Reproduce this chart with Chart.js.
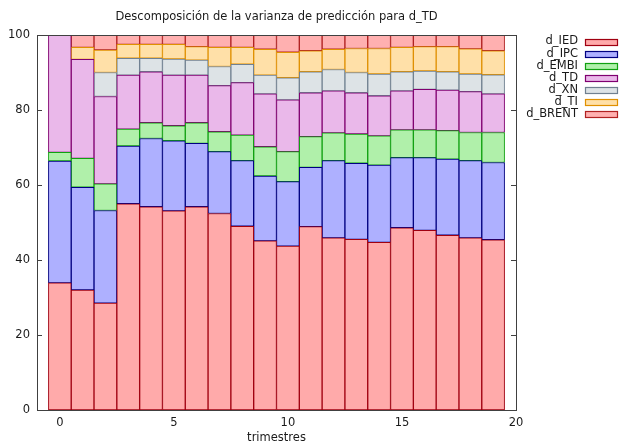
<!DOCTYPE html>
<html>
<head>
<meta charset="utf-8">
<script src="https://cdn.jsdelivr.net/npm/chart.js@4/dist/chart.umd.min.js"></script>
<style>
html,body{margin:0;padding:0;background:#fff;}
#wrap{width:624px;height:445px;position:relative;}
</style>
</head>
<body>
<div id="wrap"><canvas id="c" width="624" height="445"></canvas></div>
<script>
const steps = [0,1,2,3,4,5,6,7,8,9,10,11,12,13,14,15,16,17,18,19];
const d_IED   = [33.9,32.0,28.5,55.0,54.2,53.1,54.2,52.4,49.0,45.1,43.7,48.9,45.9,45.5,44.7,48.6,47.9,46.6,45.9,45.4];
const d_IPC   = [32.5,27.4,24.7,15.4,18.2,18.7,16.9,16.5,17.5,17.3,17.2,15.8,20.6,20.3,20.6,18.7,19.4,20.3,20.6,20.6];
const d_EMBI  = [2.3,7.7,7.1,4.5,4.2,4.0,5.5,5.3,6.8,7.8,8.0,8.2,7.4,7.8,7.8,7.4,7.4,7.6,7.5,8.0];
const d_TD    = [31.3,26.4,23.3,14.4,13.6,13.5,12.7,12.3,14.0,14.1,13.8,11.7,11.2,11.0,10.7,10.4,10.8,10.8,10.9,10.3];
const d_XN    = [0,0,6.4,4.5,3.6,4.3,4.0,5.1,4.9,5.0,5.9,5.6,5.7,5.4,5.8,5.1,4.9,4.9,4.7,5.1];
const d_TI    = [0,3.2,6.0,3.7,3.7,3.9,3.6,5.1,4.5,6.9,6.8,5.6,5.4,6.4,6.8,6.5,6.5,6.7,6.7,6.4];
const d_BRENT = [0,3.3,4.0,2.5,2.5,2.5,3.1,3.3,3.3,3.8,4.6,4.2,3.8,3.6,3.6,3.3,3.1,3.1,3.7,4.2];
const seriesNames = ['d_IED','d_IPC','d_EMBI','d_TD','d_XN','d_TI','d_BRENT'];
const seriesValues = [d_IED,d_IPC,d_EMBI,d_TD,d_XN,d_TI,d_BRENT];
const xTicks = [0,5,10,15,20];
const yTicks = [0,20,40,60,80,100];
const titleText = 'Descomposición de la varianza de predicción para d_TD';
const xTitle = 'trimestres';

const fills   = ['#ffaaaa','#aeb0ff','#b0f0aa','#eab8ea','#dde3e6','#ffe0a8','#ffb0b0'];
const borders = ['#a00010','#000080','#10a010','#800070','#708090','#e09000','#b02020'];

const FONT = 'DejaVu Sans, Verdana, sans-serif';
const FS = 11.5;

const datasets = seriesNames.map((name,i)=>({
  label: name,
  data: steps.map((s,j)=>({x:s, y:seriesValues[i][j]})),
  backgroundColor: fills[i],
  borderColor: borders[i],
  borderWidth: 1,
  borderSkipped: false,
  barPercentage: 1.0,
  categoryPercentage: 1.0
}));

const framePlugin = {
  id: 'frame',
  beforeDatasetsDraw(chart){
    const {ctx, chartArea:a, scales} = chart;
    ctx.save();
    ctx.strokeStyle = '#404040';
    ctx.lineWidth = 1;
    ctx.beginPath();
    yTicks.forEach(v=>{
      const y = Math.round(scales.y.getPixelForValue(v))+0.5;
      ctx.moveTo(a.left, y); ctx.lineTo(a.left+5, y);
      ctx.moveTo(a.right, y); ctx.lineTo(a.right-5, y);
    });
    ctx.stroke();
    ctx.restore();
  },
  afterDraw(chart){
    const {ctx, chartArea:a} = chart;
    ctx.save();
    ctx.strokeStyle = '#404040';
    ctx.lineWidth = 1;
    ctx.strokeRect(Math.round(a.left)+0.5, Math.round(a.top)+0.5, Math.round(a.right-a.left), Math.round(a.bottom-a.top));
    ctx.fillStyle = '#1a1a1a';
    ctx.font = FS + 'px ' + FONT;
    ctx.textAlign = 'center';
    ctx.textBaseline = 'middle';
    ctx.fillText(titleText, (a.left+a.right)/2, 17);
    ctx.fillText(xTitle, (a.left+a.right)/2, 438);
    const ds = chart.data.datasets;
    ds.forEach((d,i)=>{
      const y = 41.5 + i*12.05;
      ctx.textAlign = 'right';
      ctx.fillStyle = '#1a1a1a';
      ctx.fillText(d.label, 578, y);
      ctx.fillStyle = d.backgroundColor;
      ctx.fillRect(585.5, Math.round(y-3)+0.5, 32, 6);
      ctx.strokeStyle = d.borderColor;
      ctx.lineWidth = 1.2;
      ctx.strokeRect(585.5, Math.round(y-3)+0.5, 32, 6);
    });
    ctx.restore();
  }
};

new Chart(document.getElementById('c'), {
  type: 'bar',
  data: { datasets },
  options: {
    responsive: false,
    animation: false,
    devicePixelRatio: 1,
    layout: { padding: { left: 0, right: 108, top: 35, bottom: 0 } },
    plugins: { legend: { display: false }, title: { display: false }, tooltip: { enabled: false } },
    scales: {
      x: {
        type: 'linear',
        stacked: true,
        min: -1, max: 20,
        offset: false,
        grid: { display: false, drawTicks: false },
        border: { display: false },
        afterBuildTicks(s){ s.ticks = xTicks.map(v=>({value:v})); },
        afterFit(s){ s.height = 35; },
        ticks: { color: '#1a1a1a', font: { family: FONT, size: FS }, padding: 6, maxRotation: 0, autoSkip: false }
      },
      y: {
        stacked: true,
        min: 0, max: 100,
        grid: { display: false, drawTicks: false },
        border: { display: false },
        afterBuildTicks(s){ s.ticks = yTicks.map(v=>({value:v})); },
        afterFit(s){ s.width = 37; },
        ticks: { color: '#1a1a1a', font: { family: FONT, size: FS }, padding: 7 }
      }
    }
  },
  plugins: [framePlugin]
});
</script>
</body>
</html>
